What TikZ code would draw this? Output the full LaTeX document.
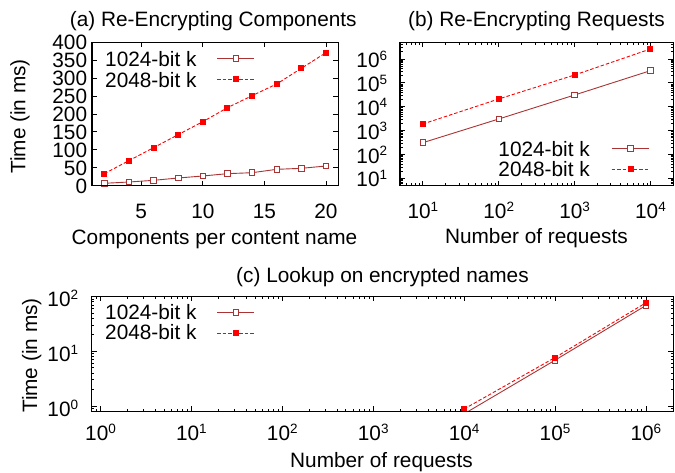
\documentclass[tikz,border=0pt]{standalone}
\usepackage{fontspec}
\setmainfont{Liberation Sans}
\definecolor{lowkey}{RGB}{170,51,51}
\newcommand\tenpow[1]{10\raisebox{7.3pt}{\fontsize{13.5}{14}\selectfont #1}}
\begin{document}
\begin{tikzpicture}[x=1pt,y=1pt,
  every node/.style={inner sep=0pt, font=\fontsize{20.8}{24}\selectfont},
  tight/.style={text height=15pt, text depth=0pt},
  frameline/.style={line width=1.2pt, black},
  tickline/.style={line width=0.8pt, black},
  serA/.style={line width=0.9pt, draw=lowkey},
  serB/.style={line width=0.9pt, draw=red, dash pattern=on 3.5pt off 2pt},
  markA/.style={rectangle, draw=lowkey, fill=white, line width=0.9pt, minimum size=5.5pt},
  markB/.style={rectangle, fill=red, minimum size=6pt},
]
\useasboundingbox (0,0) rectangle (675,473);

% ---------------- (a) linear axes ----------------
\begin{scope}[shift={(79.685,287.4)}, x=12.315pt, y=0.35825pt]
  \foreach \v in {0,50,...,400} {
    \draw[tickline] (1,\v) -- ++(5pt,0);
    \draw[tickline] (21,\v) -- ++(-5pt,0);
    \node[tight, anchor=base east] (aY\v) at ([xshift=-4.7pt,yshift=-7.45pt]1,\v) {\v};
  }
  \foreach \v in {5,10,15,20} {
    \draw[tickline] (\v,0) -- ++(0,5pt);
    \draw[tickline] (\v,400) -- ++(0,-5pt);
    \node[tight, anchor=base] (aX\v) at ([yshift=-32.7pt]\v,0) {\v};
  }
  \draw[serA] plot coordinates {(2,6.4) (4,10) (6,14.7) (8,21.2) (10,26.8) (12,33.3) (14,36) (16,45.4) (18,48.2) (20,54.7)};
  \draw[serB] plot coordinates {(2,33.3) (4,69.6) (6,105.9) (8,142.2) (10,178.4) (12,217.5) (14,251) (16,283.6) (18,327.4) (20,371)};
  \foreach \x/\v [count=\i] in {2/6.4,4/10,6/14.7,8/21.2,10/26.8,12/33.3,14/36,16/45.4,18/48.2,20/54.7}
    \node[markA] (aA\i) at (\x,\v) {};
  \foreach \x/\v [count=\i] in {2/33.3,4/69.6,6/105.9,8/142.2,10/178.4,12/217.5,14/251,16/283.6,18/327.4,20/371}
    \node[markB] (aB\i) at (\x,\v) {};
  \draw[frameline] (1,0) rectangle (21,400);
\end{scope}

% ---------------- (b) log-log axes ----------------
\begin{scope}[shift={(346.97,270.71)}, x=75.87pt, y=23.883pt]
  \begin{scope}
    \clip (0.69897,0.69897) rectangle (4.30103,6.69897);
    \foreach \e in {0,...,6} {
      \draw[tickline] (0.69897,\e) -- ++(5pt,0);
      \draw[tickline] (4.30103,\e) -- ++(-5pt,0);
      \draw[tickline] (\e,0.69897) -- ++(0,5pt);
      \draw[tickline] (\e,6.69897) -- ++(0,-5pt);
      \foreach \m in {0.30103,0.47712,0.60206,0.69897,0.77815,0.84510,0.90309,0.95424} {
        \draw[tickline] (0.69897,{\e+\m}) -- ++(2.5pt,0);
        \draw[tickline] (4.30103,{\e+\m}) -- ++(-2.5pt,0);
        \draw[tickline] ({\e+\m},0.69897) -- ++(0,2.5pt);
        \draw[tickline] ({\e+\m},6.69897) -- ++(0,-2.5pt);
      }
    }
  \end{scope}
  \foreach \e in {1,...,6}
    \node[anchor=base east] (bY\e) at ([xshift=-12.7pt,yshift=-8.5pt]0.69897,\e) {\tenpow{\e}};
  \foreach \e in {1,...,4}
    \node[anchor=base] (bX\e) at ([yshift=-33.4pt]\e,0.69897) {\tenpow{\e}};
  \draw[serA] plot coordinates {(1,2.496) (2,3.487) (3,4.492) (4,5.511)};
  \draw[serB] plot coordinates {(1,3.278) (2,4.325) (3,5.330) (4,6.418)};
  \foreach \x/\v in {1/2.496,2/3.487,3/4.492,4/5.511}
    \node[markA] (bA\x) at (\x,\v) {};
  \foreach \x/\v in {1/3.278,2/4.325,3/5.330,4/6.418}
    \node[markB] (bB\x) at (\x,\v) {};
  \draw[frameline] (0.69897,0.69897) rectangle (4.30103,6.69897);
\end{scope}

% ---------------- (c) log-log axes ----------------
\begin{scope}[shift={(100.51,67.00)}, x=90.9pt, y=54.75pt]
  \begin{scope}
    \clip (-0.09691,-0.09691) rectangle (6.30103,2);
    \foreach \e in {-1,...,6} {
      \draw[tickline] (-0.09691,\e) -- ++(5pt,0);
      \draw[tickline] (6.30103,\e) -- ++(-5pt,0);
      \draw[tickline] (\e,-0.09691) -- ++(0,5pt);
      \draw[tickline] (\e,2) -- ++(0,-5pt);
      \foreach \m in {0.30103,0.47712,0.60206,0.69897,0.77815,0.84510,0.90309,0.95424} {
        \draw[tickline] (-0.09691,{\e+\m}) -- ++(2.5pt,0);
        \draw[tickline] (6.30103,{\e+\m}) -- ++(-2.5pt,0);
        \draw[tickline] ({\e+\m},-0.09691) -- ++(0,2.5pt);
        \draw[tickline] ({\e+\m},2) -- ++(0,-2.5pt);
      }
    }
    \draw[serA] plot coordinates {(4,-0.143) (5,0.836) (6,1.836)};
    \draw[serB] plot coordinates {(4,-0.055) (5,0.885) (6,1.885)};
  \end{scope}
  \foreach \e in {0,1,2}
    \node[anchor=base east] (cY\e) at ([xshift=-13.4pt,yshift=-10.4pt]-0.09691,\e) {\tenpow{\e}};
  \foreach \e in {0,...,6}
    \node[anchor=base] (cX\e) at ([yshift=-29.2pt]\e,-0.09691) {\tenpow{\e}};
  \foreach \x/\v in {5/0.836,6/1.836}
    \node[markA] (cA\x) at (\x,\v) {};
  \foreach \x/\v in {4/-0.055,5/0.885,6/1.885}
    \node[markB] (cB\x) at (\x,\v) {};
  \draw[frameline] (-0.09691,-0.09691) rectangle (6.30103,2);
\end{scope}

% ---------------- titles and axis labels ----------------
\node[anchor=base] (titleA) at (213.3,446) {(a) Re-Encrypting Components};
\node[anchor=base] (titleB) at (536.5,446) {(b) Re-Encrypting Requests};
\node[anchor=base] (titleC) at (382.5,190) {(c) Lookup on encrypted names};
\node[anchor=base] (xlabA) at (214.5,228) {Components per content name};
\node[anchor=base] (xlabB) at (536.4,229) {Number of requests};
\node[anchor=base] (xlabC) at (381.5,5) {Number of requests};
\node[rotate=90] (ylabA) at (20,356.5) {Time (in ms)};
\node[rotate=90] (ylabC) at (31.7,117.5) {Time (in ms)};

% ---------------- legends ----------------
\node[tight, anchor=base west] (legA1) at (105,406.3) {1024-bit k};
\node[tight, anchor=base west] (legA2) at (105,385.7) {2048-bit k};
\coordinate (lA1s) at (217,414.7); \coordinate (lA1e) at (254.3,414.7);
\coordinate (lA2s) at (217,393.7); \coordinate (lA2e) at (254.3,393.7);
\draw[serA] (lA1s) -- (lA1e);
\draw[serB] (lA2s) -- (lA2e);
\node[markA] (mA1) at (235.7,414.7) {};
\node[markB] (mA2) at (235.7,393.7) {};

\node[tight, anchor=base east] (legB1) at (590,316.3) {1024-bit k};
\node[tight, anchor=base east] (legB2) at (590,296.3) {2048-bit k};
\coordinate (lB1s) at (611.7,324.7); \coordinate (lB1e) at (649.3,324.7);
\coordinate (lB2s) at (611.7,303.7); \coordinate (lB2e) at (649.3,303.7);
\draw[serA] (lB1s) -- (lB1e);
\draw[serB] (lB2s) -- (lB2e);
\node[markA] (mB1) at (630.5,324.7) {};
\node[markB] (mB2) at (630.5,303.7) {};

\node[tight, anchor=base west] (legC1) at (105,153) {1024-bit k};
\node[tight, anchor=base west] (legC2) at (105,133) {2048-bit k};
\coordinate (lC1s) at (217,160.7); \coordinate (lC1e) at (254.3,160.7);
\coordinate (lC2s) at (217,139.7); \coordinate (lC2e) at (254.3,139.7);
\draw[serA] (lC1s) -- (lC1e);
\draw[serB] (lC2s) -- (lC2e);
\node[markA] (mC1) at (235.7,160.7) {};
\node[markB] (mC2) at (235.7,139.7) {};
\end{tikzpicture}
\end{document}
